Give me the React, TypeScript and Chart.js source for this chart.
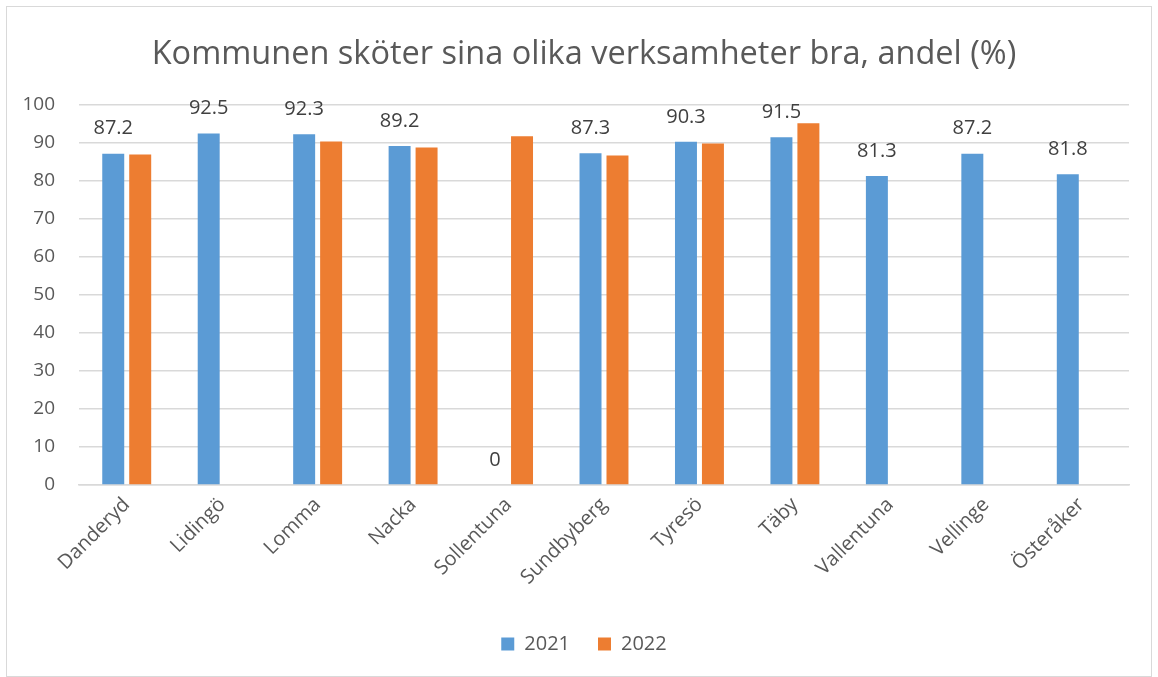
import React, { useEffect, useRef } from "react";
import { Chart, registerables } from "chart.js";

Chart.register(...registerables);

const categories = ["Danderyd", "Lidingö", "Lomma", "Nacka", "Sollentuna", "Sundbyberg", "Tyresö", "Täby", "Vallentuna", "Vellinge", "Österåker"];
const values2021: (number | null)[] = [87.2, 92.5, 92.3, 89.2, 0, 87.3, 90.3, 91.5, 81.3, 87.2, 81.8];
const values2022: (number | null)[] = [87.0, null, 90.4, 88.8, 91.8, 86.7, 89.9, 95.2, null, null, null];
const seriesLabels = ["2021", "2022"];
const yTicks = { min: 0, max: 100, step: 10 };
const title = "Kommunen sköter sina olika verksamheter bra, andel (%)";

const FONT = "'Open Sans', Lato, sans-serif";
const TEXT = "#595959";

const dataLabels = {
  id: "dataLabels",
  afterDatasetsDraw(chart: any) {
    const ctx = chart.ctx;
    const meta = chart.getDatasetMeta(0);
    const data = chart.data.datasets[0].data;
    ctx.save();
    ctx.font = `20px ${FONT}`;
    ctx.fillStyle = "#404040";
    ctx.textAlign = "center";
    ctx.textBaseline = "middle";
    meta.data.forEach((bar: any, i: number) => {
      const v = data[i];
      if (v === null || v === undefined) return;
      ctx.fillText(String(v), bar.x, bar.y - 25);
    });
    ctx.restore();
  },
};

// centre title and legend on the whole frame rather than on the padded area
const shiftBlocks = {
  id: "shiftBlocks",
  afterUpdate(chart: any) {
    const dx = 16;
    [chart.legend, chart.titleBlock].forEach((b: any) => {
      if (!b) return;
      b.left += dx;
      b.right += dx;
    });
    if (chart.legend && chart.legend.legendHitBoxes) {
      chart.legend.legendHitBoxes.forEach((h: any) => (h.left += dx));
    }
  },
};

export default function App() {
  const ref = useRef<HTMLCanvasElement | null>(null);
  useEffect(() => {
    if (!ref.current) return;
    const chart = new Chart(ref.current, {
      type: "bar",
      data: {
        labels: categories,
        datasets: [
          { label: seriesLabels[0], data: values2021, backgroundColor: "#5B9BD5", barPercentage: 0.815, categoryPercentage: 0.565 },
          { label: seriesLabels[1], data: values2022, backgroundColor: "#ED7D31", barPercentage: 0.815, categoryPercentage: 0.565 },
        ],
      },
      options: {
        animation: false,
        responsive: false,
        layout: { padding: { left: 0, right: 22, top: 0, bottom: 12 } },
        plugins: {
          title: {
            display: true,
            text: title,
            color: TEXT,
            font: { family: FONT, size: 32.5, weight: "normal" },
            padding: { top: 28, bottom: 31 },
          },
          legend: {
            position: "bottom",
            labels: {
              color: TEXT,
              font: { family: FONT, size: 20 },
              boxWidth: 13,
              boxHeight: 13,
              padding: 28,
            },
          },
          tooltip: { enabled: false },
        },
        scales: {
          x: {
            grid: { display: false, drawTicks: false },
            border: { display: true, color: "#d9d9d9", width: 1.5 },
            ticks: {
              color: TEXT,
              font: { family: FONT, size: 20 },
              minRotation: 45,
              maxRotation: 45,
              padding: 8,
            },
            afterFit(scale: any) {
              scale.height = 121;
            },
          },
          y: {
            min: yTicks.min,
            max: yTicks.max,
            grid: { color: "#d9d9d9", lineWidth: 1.5, drawTicks: false },
            border: { display: false },
            ticks: {
              stepSize: yTicks.step,
              color: TEXT,
              font: { family: FONT, size: 19 },
              padding: 24,
            },
            afterFit(scale: any) {
              scale.width = 72;
            },
          },
        },
      },
      plugins: [dataLabels, shiftBlocks],
    });
    return () => chart.destroy();
  }, []);
  return (
    <div style={{ position: "fixed", left: 6, top: 6, width: 1144, height: 669, border: "1px solid #d9d9d9", background: "#fff" }}>
      <canvas ref={ref} width={1144} height={669} style={{ display: "block" }} />
    </div>
  );
}
